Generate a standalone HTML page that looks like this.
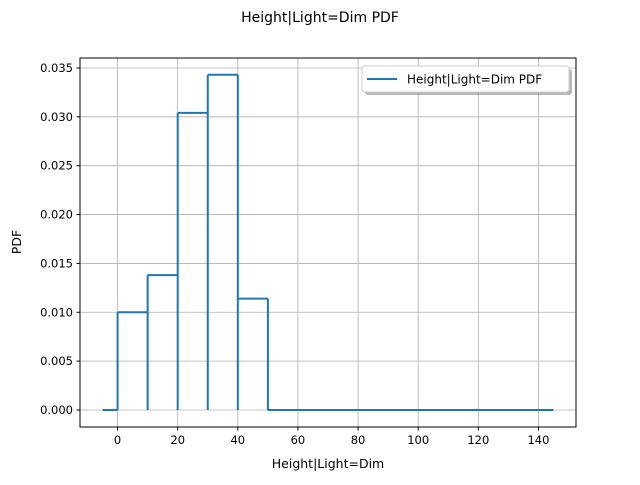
<!DOCTYPE html>
<html><head><meta charset="utf-8"><style>
body{margin:0;background:#fff}
svg{font-family:"DejaVu Sans","Liberation Sans",sans-serif}
</style></head><body>
<svg id="chart" width="640" height="480" viewBox="0 0 640 480">
<rect width="640" height="480" fill="#fff"/>
<text x="320" y="22" text-anchor="middle" font-size="14">Height|Light=Dim PDF</text>
<g id="grid"></g>
<g id="series"></g>
<rect x="80" y="58" width="496" height="369" fill="none" stroke="#000" stroke-width="1"/>
<g id="ticks" font-size="11.5"></g>
<text x="328" y="468" text-anchor="middle" font-size="12.5">Height|Light=Dim</text>
<text x="21" y="242" text-anchor="middle" font-size="12.5" transform="rotate(-90 21 242)">PDF</text>
<g>
<rect x="365" y="69" width="207" height="26" rx="3" fill="#888" opacity="0.6"/>
<rect x="362" y="66" width="207" height="26" rx="3" fill="#fff" stroke="#ccc"/>
<line x1="367" y1="79" x2="397" y2="79" stroke="#1f77b4" stroke-width="2"/>
<text x="407" y="83.5" font-size="12">Height|Light=Dim PDF</text>
</g>
</svg>
<script>
const binEdges=[0,10,20,30,40,50];
const pdfValues=[0.0100,0.0138,0.0304,0.0343,0.0114];
const tailStart=-5, tailEnd=145;
const xTicks=[0,20,40,60,80,100,120,140];
const yTicks=[0,0.005,0.010,0.015,0.020,0.025,0.030,0.035];
const yTickLabels=["0.000","0.005","0.010","0.015","0.020","0.025","0.030","0.035"];
const X0=80,X1=576,Y0=427,Y1=58,xmin=-12.5,xmax=152.5,ymin=-0.00174,ymax=0.03602;
const sx=v=>X0+(v-xmin)/(xmax-xmin)*(X1-X0);
const sy=v=>Y0-(v-ymin)/(ymax-ymin)*(Y0-Y1);
const NS="http://www.w3.org/2000/svg";
function mk(t,a,p){const e=document.createElementNS(NS,t);for(const k in a)e.setAttribute(k,a[k]);p.appendChild(e);return e;}
const grid=document.getElementById('grid'),ticks=document.getElementById('ticks'),ser=document.getElementById('series');
xTicks.forEach(v=>{const x=sx(v);
const g=mk('line',{x1:x,x2:x,y1:Y1,y2:Y0,stroke:'#b0b0b0','stroke-width':0.8},grid);


mk('line',{x1:x,x2:x,y1:Y0,y2:Y0+3.5,stroke:'#000'},ticks);
const t=mk('text',{x:x,y:Y0+17,'text-anchor':'middle'},ticks);t.textContent=v;

});
yTicks.forEach((v,i)=>{const y=sy(v);
const g=mk('line',{x1:X0,x2:X1,y1:y,y2:y,stroke:'#b0b0b0','stroke-width':0.8},grid);


mk('line',{x1:X0-3.5,x2:X0,y1:y,y2:y,stroke:'#000'},ticks);
const t=mk('text',{x:X0-7,y:y+4,'text-anchor':'end'},ticks);t.textContent=yTickLabels[i];

});
const st={stroke:'#1f77b4','stroke-width':2,fill:'none'};
function seg(x1,y1,x2,y2,name){const l=mk('line',Object.assign({x1:sx(x1),y1:sy(y1),x2:sx(x2),y2:sy(y2)},st),ser);

}
seg(tailStart,0,binEdges[0],0,'baseline-left');
seg(binEdges[binEdges.length-1],0,tailEnd,0,'baseline-right');
pdfValues.forEach((v,i)=>seg(binEdges[i],v,binEdges[i+1],v,'bin-top-'+i));
binEdges.forEach((e,i)=>{const h=Math.max(i>0?pdfValues[i-1]:0,i<pdfValues.length?pdfValues[i]:0);seg(e,0,e,h,'bin-edge-'+i);});
</script>
</body></html>
